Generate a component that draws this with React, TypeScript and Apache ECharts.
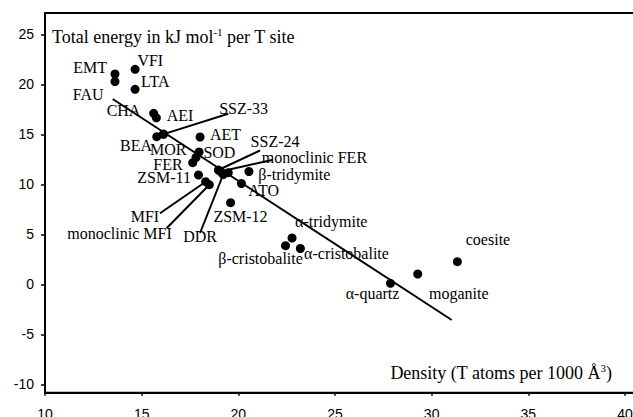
import React, { useEffect, useRef } from "react";
import * as echarts from "echarts";

// Point names, density (T atoms per 1000 Å^3) and total energy (kJ/mol per T site)
const names = [
  "EMT", "FAU", "VFI", "LTA", "CHA", "AEI", "BEA", "MOR", "SSZ-33", "AET", "SOD", "",
  "FER", "ZSM-11", "MFI", "monoclinic MFI", "SSZ-24", "monoclinic FER", "DDR", "",
  "β-tridymite", "ATO", "ZSM-12", "α-tridymite", "β-cristobalite", "α-cristobalite",
  "α-quartz", "moganite", "coesite",
];
const density = [
  13.62, 13.62, 14.66, 14.66, 15.62, 15.76, 15.78, 16.12, 16.14, 18.02, 17.97, 17.81,
  17.64, 17.94, 18.31, 18.5, 18.97, 19.08, 19.22, 19.48,
  20.55, 20.16, 19.6, 22.78, 22.44, 23.21,
  27.87, 29.28, 31.33,
];
const energy = [
  21.03, 20.28, 21.5, 19.5, 17.1, 16.65, 14.76, 15.0, 15.02, 14.73, 13.23, 12.68,
  12.16, 10.93, 10.26, 9.96, 11.43, 11.28, 10.98, 11.16,
  11.28, 10.08, 8.16, 4.63, 3.86, 3.58,
  0.1, 1.03, 2.26,
];

// Leader lines: from the named point to a label anchor (data coordinates)
const leaderNames = ["SSZ-33", "SSZ-24", "monoclinic FER", "MFI", "monoclinic MFI", "DDR"];
const leaderEndDensity = [19.48, 21.12, 21.74, 15.95, 16.29, 18.02];
const leaderEndEnergy = [17.06, 13.38, 12.43, 7.1, 5.6, 5.13];

// Trend line end points
const trendDensity = [13.5, 31.04];
const trendEnergy = [18.53, -3.57];

// Tick labels
const xTicks = [10, 15, 20, 25, 30, 35, 40];
const yTicks = [-10, -5, 0, 5, 10, 15, 20, 25];

// Label placement (pixel offsets of the label's left/middle from the point's centre) — layout only
const labelOffsets: Record<string, [number, number]> = {
  EMT: [-41.7, -7],
  FAU: [-42.3, 12.5],
  VFI: [2.3, -8.8],
  LTA: [6, -8.3],
  CHA: [-47, -3.3],
  AEI: [10.4, -2.3],
  BEA: [-36.7, 8.8],
  MOR: [-13.3, 14.7],
  "SSZ-33": [55.5, -26],
  AET: [10, -3],
  SOD: [4.3, 0.5],
  FER: [-39.4, 1.3],
  "ZSM-11": [-61.2, 2.5],
  MFI: [-75, 35],
  "monoclinic MFI": [-142, 48.3],
  "SSZ-24": [32.2, -29],
  "monoclinic FER": [41.2, -14.5],
  DDR: [-40, 61.8],
  "β-tridymite": [9.3, 2.5],
  ATO: [6.8, 7],
  "ZSM-12": [-17.2, 14],
  "α-tridymite": [3, -16.3],
  "β-cristobalite": [-67.2, 12.8],
  "α-cristobalite": [3.7, 4.5],
  "α-quartz": [-44.8, 9.7],
  moganite: [11.3, 19],
  coesite: [8.4, -22.7],
};

const SERIF = "'Liberation Serif', 'Times New Roman', serif";
const SANS = "'Liberation Sans', Arial, sans-serif";
const SYM = 9;

export default function App() {
  const ref = useRef<HTMLDivElement>(null);
  useEffect(() => {
    if (!ref.current) return;
    const chart = echarts.init(ref.current, undefined, { renderer: "svg" });

    const points = names.map((n, i) => ({
      name: n,
      value: [density[i], energy[i]],
      label: { show: !!labelOffsets[n] },
    }));

    const leaderSeries = leaderNames.map((n, k) => {
      const i = names.indexOf(n);
      return {
        type: "line",
        data: [
          [density[i], energy[i]],
          [leaderEndDensity[k], leaderEndEnergy[k]],
        ],
        symbol: "none",
        silent: true,
        lineStyle: { color: "#000", width: 2, opacity: 1 },
        z: 2,
      };
    });

    const rich = {
      a: { fontFamily: SERIF, fontSize: 18, fill: "#000", lineHeight: 20 },
      s: { fontFamily: SERIF, fontSize: 11, fill: "#000", verticalAlign: "top", lineHeight: 11 },
    };

    chart.setOption({
      animation: false,
      backgroundColor: "#fff",
      grid: {
        left: 45,
        top: 13,
        width: 599.3,
        height: 379.7,
        show: true,
        borderColor: "#000",
        borderWidth: 2,
        containLabel: false,
        outerBoundsMode: "none",
      },
      xAxis: {
        type: "value",
        min: 10,
        max: 41,
        splitLine: { show: false },
        axisLine: { onZero: false, lineStyle: { color: "#000", width: 2 } },
        axisTick: { show: true, length: 3, lineStyle: { color: "#000", width: 1.5 }, customValues: xTicks },
        axisLabel: { customValues: xTicks, color: "#000", fontFamily: SANS, fontSize: 14, margin: 14 },
      },
      yAxis: {
        type: "value",
        min: -10.84,
        max: 27.13,
        splitLine: { show: false },
        axisLine: { onZero: false, lineStyle: { color: "#000", width: 2 } },
        axisTick: { show: true, length: 4, lineStyle: { color: "#000", width: 1.5 }, customValues: yTicks },
        axisLabel: { customValues: yTicks, color: "#000", fontFamily: SANS, fontSize: 14, margin: 11 },
      },
      graphic: [
        {
          type: "text",
          x: 52,
          y: 36.5,
          style: {
            text: "{a|Total energy in kJ mol}{s|-1}{a| per T site}",
            align: "left",
            verticalAlign: "middle",
            fill: "#000",
            rich,
          },
        },
        {
          type: "text",
          x: 612,
          y: 372.5,
          style: {
            text: "{a|Density (T atoms per 1000 Å}{s|3}{a|)}",
            align: "right",
            verticalAlign: "middle",
            fill: "#000",
            rich,
          },
        },
      ],
      series: [
        {
          type: "line",
          data: [
            [trendDensity[0], trendEnergy[0]],
            [trendDensity[1], trendEnergy[1]],
          ],
          symbol: "none",
          silent: true,
          lineStyle: { color: "#000", width: 2, opacity: 1 },
          z: 2,
        },
        ...leaderSeries,
        {
          type: "scatter",
          data: points,
          symbol: "circle",
          symbolSize: SYM,
          itemStyle: { color: "#000", opacity: 1 },
          z: 3,
          label: {
            show: true,
            position: [SYM / 2, SYM / 2],
            align: "left",
            verticalAlign: "middle",
            formatter: "{b}",
            color: "#000",
            fontFamily: SERIF,
            fontSize: 16,
          },
          labelLayout: (params: any) => {
            const off = labelOffsets[names[params.dataIndex]] || [0, 0];
            return { dx: off[0], dy: off[1], hideOverlap: false };
          },
        },
      ],
    });
    return () => chart.dispose();
  }, []);
  return (
    <div
      ref={ref}
      style={{ position: "fixed", left: 0, top: 0, width: 633, height: 417, background: "#fff" }}
    />
  );
}
